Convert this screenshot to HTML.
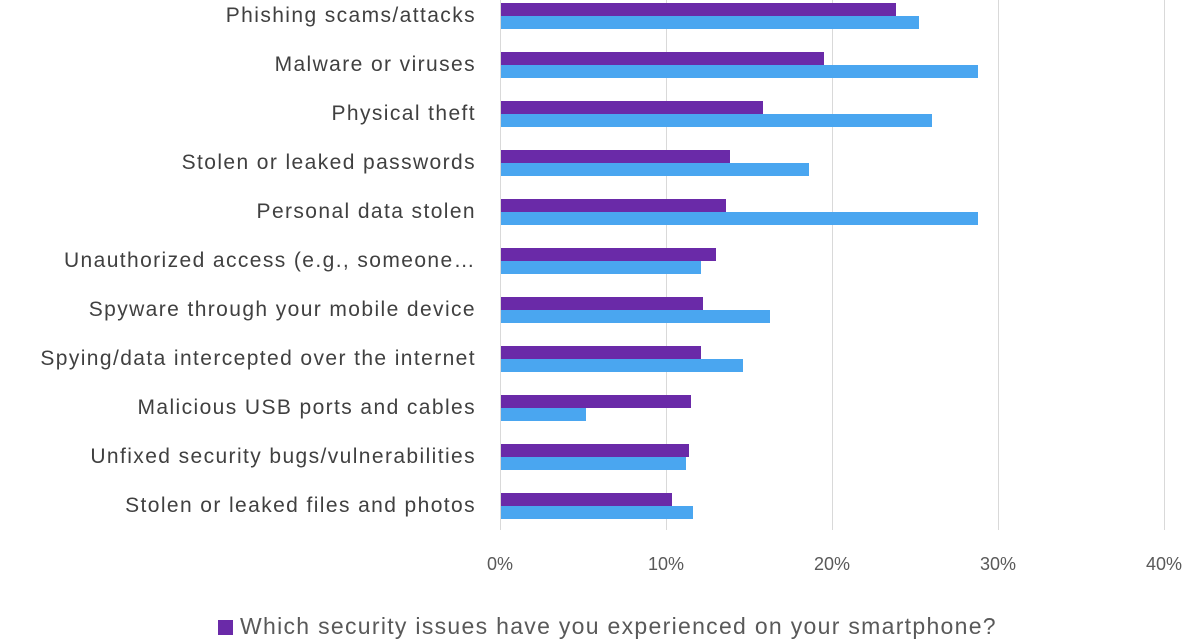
<!DOCTYPE html>
<html><head><style>
body{margin:0;width:1200px;height:640px;background:#fff;overflow:hidden;font-family:"Liberation Sans",sans-serif;position:relative}
.g{position:absolute;top:0;width:1px;height:530px;background:#d9d9d9}
.l{position:absolute;right:724px;font-size:21px;letter-spacing:1.4px;color:#404040;white-space:nowrap;line-height:20px}
.p{position:absolute;left:501px;height:13px;background:#6a2aa8}
.b{position:absolute;left:501px;height:13px;background:#4aa6f0}
.t{position:absolute;top:554px;font-size:18px;color:#595959;width:80px;text-align:center}
</style></head><body>
<div class="g" style="left:500px"></div><div class="g" style="left:666px"></div><div class="g" style="left:832px"></div><div class="g" style="left:998px"></div><div class="g" style="left:1164px"></div>
<div id="c"></div>
<div class="t" style="left:460px">0%</div><div class="t" style="left:626px">10%</div><div class="t" style="left:792px">20%</div><div class="t" style="left:958px">30%</div><div class="t" style="left:1124px">40%</div>
<div style="position:absolute;left:218px;top:620px;width:15px;height:15px;background:#6a2aa8"></div>
<div style="position:absolute;left:240px;top:613px;font-size:23px;letter-spacing:1.3px;color:#595959;white-space:nowrap">Which security issues have you experienced on your smartphone?</div>
<script>
var d=[["Phishing scams/attacks",896,919],["Malware or viruses",824,978],["Physical theft",763,932],["Stolen or leaked passwords",730,809],["Personal data stolen",726,978],["Unauthorized access (e.g., someone…",716,701],["Spyware through your mobile device",703,770],["Spying/data intercepted over the internet",701,743],["Malicious USB ports and cables",691,586],["Unfixed security bugs/vulnerabilities",689,686],["Stolen or leaked files and photos",672,693]];
var h="";d.forEach(function(r,i){var y=3+49*i;
h+='<div class="p" style="top:'+y+'px;width:'+(r[1]-501)+'px"></div><div class="b" style="top:'+(y+13)+'px;width:'+(r[2]-501)+'px"></div><div class="l" style="top:'+(y+3)+'px">'+r[0]+'</div>';});
document.getElementById("c").innerHTML=h;
</script>
</body></html>
